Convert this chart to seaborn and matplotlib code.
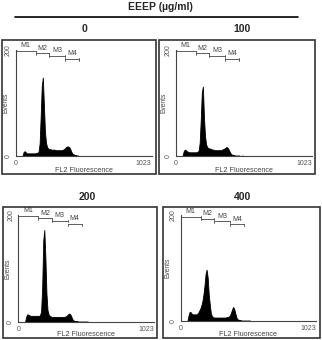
import matplotlib
matplotlib.use("Agg")
import matplotlib.pyplot as plt
from matplotlib.patches import Rectangle
from matplotlib.lines import Line2D
from matplotlib.ticker import MultipleLocator
import seaborn as sns

sns.set_style("white")
plt.rcParams["font.family"] = ["Liberation Sans", "DejaVu Sans"]

# FL2 channel (start of each 8-channel bin)
channels = list(range(48, 528, 8))

# event counts per channel
counts_0 = [1, 8, 9, 7, 5, 5, 5, 5, 5, 5, 5, 5, 5, 6, 6, 8, 24, 75, 132, 148,
            98, 46, 25, 17, 14, 13, 13, 12, 12, 12, 12, 11, 11, 11, 11, 11, 11, 11, 12, 13,
            15, 17, 18, 18, 16, 12, 7, 4, 3, 2, 2, 1, 1, 0, 0, 0, 0, 0, 0, 0]
counts_100 = [1, 9, 12, 11, 9, 8, 7, 7, 7, 7, 7, 7, 7, 7, 8, 10, 25, 68, 120, 131,
              74, 38, 22, 17, 15, 14, 14, 13, 12, 12, 11, 11, 11, 11, 11, 11, 11, 12, 13, 14,
              15, 17, 16, 13, 9, 5, 3, 2, 2, 1, 1, 1, 1, 1, 0, 0, 1, 0, 0, 0]
counts_200 = [1, 10, 14, 13, 12, 11, 11, 11, 11, 11, 11, 11, 11, 11, 12, 20, 64, 152, 172, 122,
              54, 22, 14, 11, 10, 9, 9, 9, 9, 9, 9, 9, 9, 9, 9, 9, 9, 9, 10, 11,
              13, 15, 15, 12, 7, 3, 2, 1, 1, 1, 0, 0, 0, 0, 0, 0, 0, 0, 0, 0]
counts_400 = [1, 11, 17, 16, 13, 12, 12, 12, 12, 13, 15, 19, 23, 29, 37, 50, 67, 89, 97, 82,
              50, 31, 14, 9, 7, 6, 6, 6, 6, 6, 6, 6, 6, 6, 6, 6, 6, 7, 7, 8,
              10, 15, 21, 26, 23, 15, 7, 3, 2, 1, 1, 0, 0, 0, 0, 0, 0, 0, 0, 0]

doses = ["0", "100", "200", "400"]
all_counts = [counts_0, counts_100, counts_200, counts_400]

# gate markers M1-M4
marker_names = ["M1", "M2", "M3", "M4"]
marker_edges = [0, 150, 253, 371, 478]
marker_levels = [198, 194, 189, 183]

W, H = 322, 340
fig = plt.figure(figsize=(W / 100, H / 100), dpi=100)

def fx(px):
    return px / W

def fy(py):
    return 1 - py / H

# axes areas in pixels: x0, x1023, y0, y200
axes_px = [(15.7, 151.7, 156, 50), (175.7, 312, 156, 50),
           (18.3, 154, 321.7, 215), (180.7, 316, 320.7, 215.5)]
boxes_px = [(2, 40, 156, 174), (159, 40, 315, 174),
            (3, 207, 157, 338), (163, 207, 320, 338)]
titles_px = [(85, 29.5), (242, 29.5), (87, 197), (243, 197)]
# right edge of "Events", top of "FL2 Fluorescence"
labels_px = [(9.5, 167.5), (168, 167.5), (11, 331), (171, 331)]

grey = "#444444"

fig.text(fx(160), fy(7.5), "EEEP (\u00b5g/ml)", ha="center", va="center",
         fontsize=7.5, fontweight="bold")
fig.add_artist(Line2D([fx(15), fx(298)], [fy(16.7), fy(16.7)], color="black", lw=1.2))

for dose, counts, (x0, x1, y0, y1), box, tpos, lpos in zip(
        doses, all_counts, axes_px, boxes_px, titles_px, labels_px):
    bx0, by0, bx1, by1 = box
    fig.add_artist(Rectangle((fx(bx0), fy(by1)), fx(bx1) - fx(bx0), fy(by0) - fy(by1),
                             transform=fig.transFigure, fill=False,
                             edgecolor="#333333", lw=1.2))
    fig.text(fx(tpos[0]), fy(tpos[1]), dose, ha="center", va="center",
             fontsize=7.5, fontweight="bold")

    ax = fig.add_axes([fx(x0), fy(y0), fx(x1) - fx(x0), fy(y1) - fy(y0)])
    ax.patch.set_alpha(0)
    sns.histplot(x=channels, weights=counts, binwidth=8, binrange=(48, 528),
                 element="poly", fill=True, color="black", alpha=1,
                 linewidth=0.6, edgecolor="black", ax=ax)
    ax.set_xlim(0, 1023)
    ax.set_ylim(0, 200)
    for s in ["top", "right"]:
        ax.spines[s].set_visible(False)
    for s in ["left", "bottom"]:
        ax.spines[s].set_color(grey)
        ax.spines[s].set_linewidth(0.8)

    ax.set_xticks([0, 1023])
    ax.set_xticklabels(["0", "1023"])
    ax.get_xticklabels()[1].set_horizontalalignment("right")
    ax.xaxis.set_minor_locator(MultipleLocator(32))
    ax.set_yticks([0, 50, 100, 150, 200])
    ax.set_yticklabels(["0", "", "", "", "200"], rotation=90, va="center")
    ax.tick_params(axis="both", which="major", length=2, width=0.6, color=grey,
                   labelsize=5, labelcolor="#555555", pad=1)
    ax.tick_params(axis="x", which="minor", length=1.2, width=0.5, color=grey)
    ax.set_xlabel("FL2 Fluorescence", fontsize=5.2, color=grey)
    ax.set_ylabel("Events", fontsize=4.8, color=grey)
    ax.yaxis.set_label_coords((lpos[0] - x0) / (x1 - x0), 0.5)
    ax.xaxis.set_label_coords(0.5, (y0 - lpos[1]) / (y0 - y1))

    for name, a, b, lev in zip(marker_names, marker_edges[:-1], marker_edges[1:], marker_levels):
        ax.plot([a, b], [lev, lev], color=grey, lw=0.6, clip_on=False)
        ax.plot([a, a], [lev - 3, lev + 1], color=grey, lw=0.6, clip_on=False)
        ax.plot([b, b], [lev - 3, lev + 1], color=grey, lw=0.6, clip_on=False)
        ax.text((a + b) / 2, lev + 3, name, ha="center", va="bottom",
                fontsize=5, color=grey, clip_on=False)

fig.savefig("out.png", dpi=100)
